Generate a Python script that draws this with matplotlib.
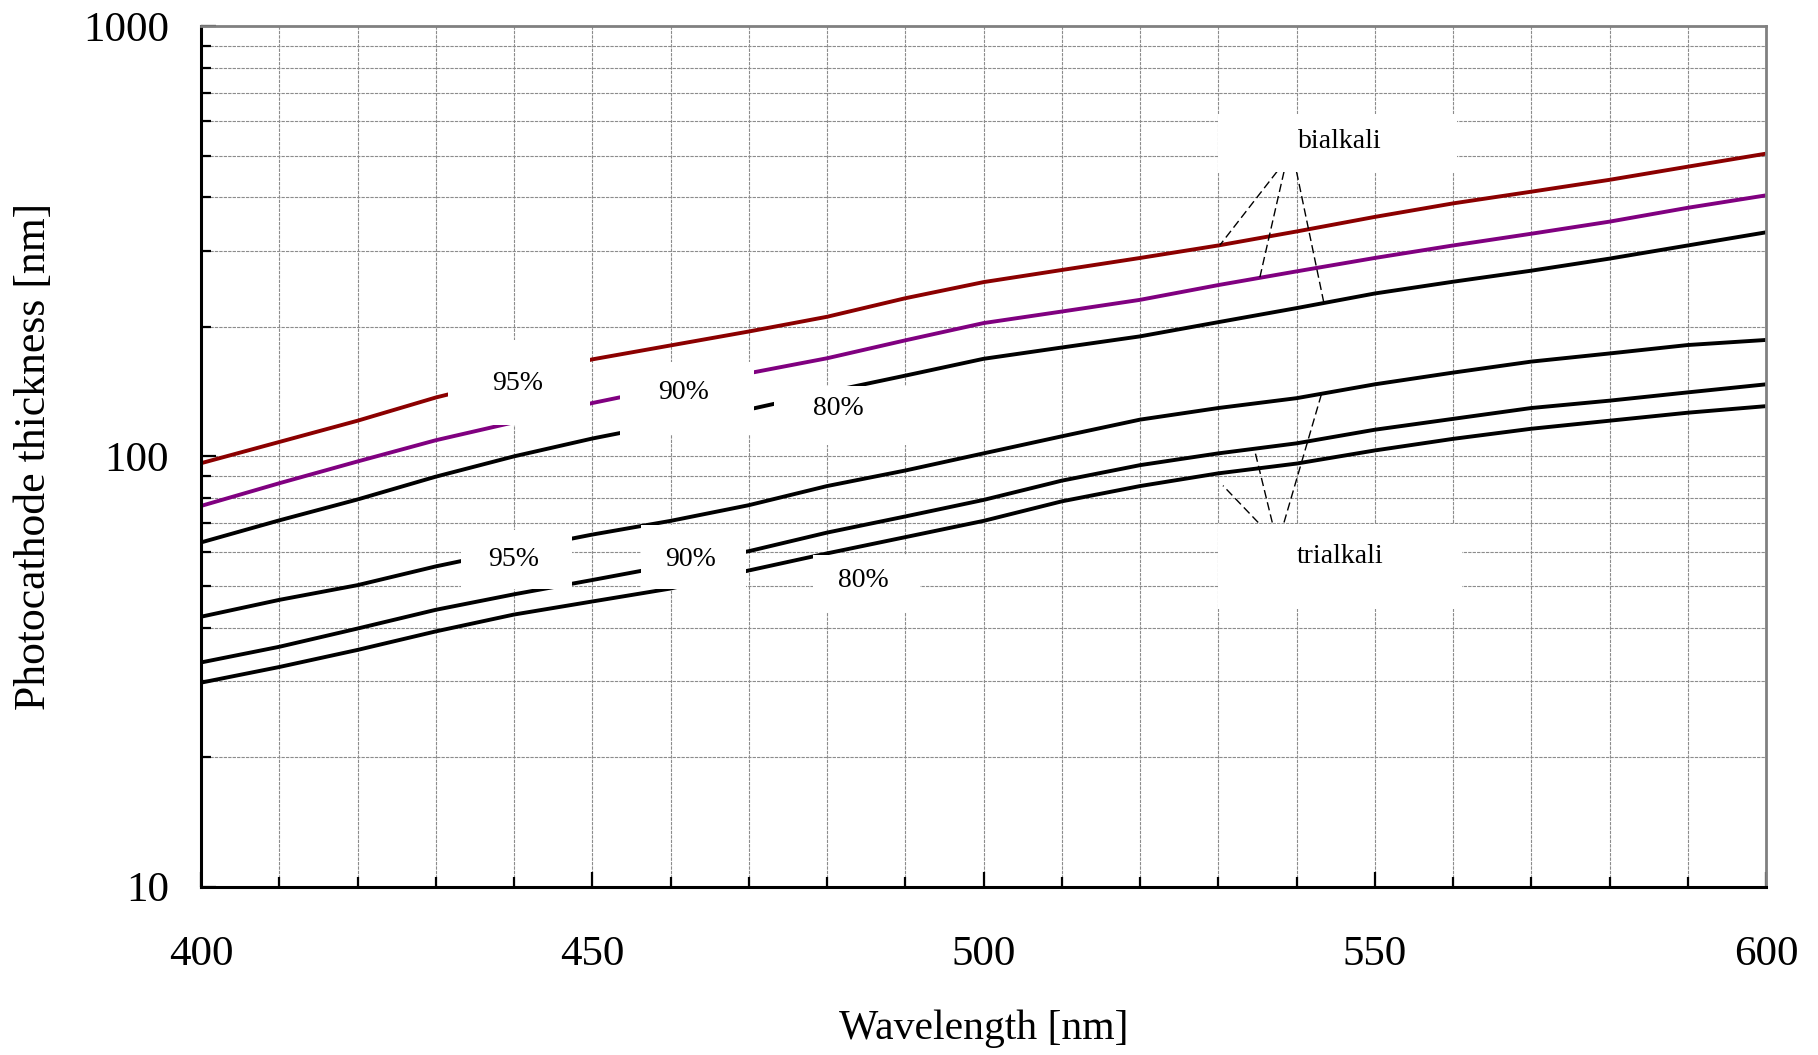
import numpy as np
import matplotlib
matplotlib.use('Agg')
from matplotlib import pyplot as plt
from matplotlib import ticker
from matplotlib.patches import Rectangle

plt.rcParams['font.family'] = ['Liberation Serif', 'DejaVu Serif']

# wavelength grid [nm]
wavelength = [400, 410, 420, 430, 440, 450, 460, 470, 480, 490, 500,
              510, 520, 530, 540, 550, 560, 570, 580, 590, 600]

# bialkali photocathode thickness [nm] for 95 / 90 / 80 % absorption
bi_95 = [96.4, 108, 121, 137, 152, 168, 181, 195, 211, 233, 254,
         271, 289, 309, 333, 360, 387, 412, 439, 471, 505]
bi_90 = [76.7, 86.6, 97.3, 109, 120, 133, 145, 156, 169, 186, 204,
         217, 231, 250, 269, 289, 309, 329, 351, 378, 404]
bi_80 = [63.1, 71, 79.4, 89.7, 100, 110, 119.5, 128.5, 141, 154, 168.5,
         179, 190, 205, 221, 239, 254.5, 270, 288, 309, 331.5]

# trialkali
tri_95 = [42.4, 46.4, 50.2, 55.5, 60.6, 65.8, 70.8, 77, 85.3, 92.7, 101.6,
          111.3, 121.7, 129.5, 136.5, 147, 156.5, 166, 173.4, 181.4, 186.4]
tri_90 = [33.2, 36.1, 39.8, 44, 47.8, 51.6, 55.8, 60.2, 66.5, 72.5, 79.2,
          87.8, 95.4, 101.6, 107.2, 115.3, 122.2, 129.5, 134.7, 140.8, 147]
tri_80 = [29.8, 32.4, 35.5, 39.2, 42.9, 46, 49.3, 54.3, 59.5, 64.9, 70.8,
          78.6, 85.3, 91.3, 96.2, 103.2, 109.8, 115.9, 121, 126.3, 130.8]

series = [(bi_95, '#8b0000'), (bi_90, '#800080'), (bi_80, 'black'),
          (tri_95, 'black'), (tri_90, 'black'), (tri_80, 'black')]

# label text, position and white box (x0, x1, y0, y1)
label_text = ['95%', '90%', '80%', '95%', '90%', '80%', 'bialkali', 'trialkali']
label_pos = [(440.5, 148), (461.7, 141), (481.4, 129.3),
             (439.9, 57.7), (462.5, 57.7), (484.6, 51.6),
             (545.6, 538), (545.6, 58.5)]
label_box = [(431.6, 449.7, 118, 186), (453.5, 470.7, 112, 166), (473.2, 490.6, 106, 146),
             (433.2, 447.4, 49.2, 67.4), (456.2, 469.6, 49.2, 69.3), (478.2, 491.9, 43.3, 59),
             (530.0, 560.5, 458, 624), (530.0, 561.2, 44.2, 69.6)]

# leader lines: label tip x, tip y, curve hit x
bi_tip_x = [537.5, 538.4, 540.0]
bi_tip_y = 458.6
bi_hit_x = [530.2, 535.3, 543.5]
tri_tip_x = [535.1, 536.9, 538.4]
tri_tip_y = 70.2
tri_hit_x = [530.6, 534.6, 543.2]

fig = plt.figure(figsize=(18.18, 10.55), dpi=100)
ax = fig.add_axes([0.1106, 0.1595, 0.8608, 0.8159])

for vals, col in series:
    ax.plot(wavelength, vals, color=col, lw=2.8, zorder=2, solid_capstyle='butt')


def on_curve(x, vals):
    return 10 ** np.interp(x, wavelength, np.log10(vals))


dash = dict(color='black', lw=1.0, dashes=(6, 3), zorder=3)
for tx, hx, vals in zip(bi_tip_x, bi_hit_x, [bi_95, bi_90, bi_80]):
    ax.plot([tx, hx], [bi_tip_y, on_curve(hx, vals)], **dash)
tri_hit_y = [85.5, on_curve(tri_hit_x[1], tri_90), on_curve(tri_hit_x[2], tri_95)]
for tx, hx, hy in zip(tri_tip_x, tri_hit_x, tri_hit_y):
    ax.plot([tx, hx], [tri_tip_y, hy], **dash)

for txt, (x, y), (x0, x1, y0, y1) in zip(label_text, label_pos, label_box):
    ax.add_patch(Rectangle((x0, y0), x1 - x0, y1 - y0, facecolor='white',
                           edgecolor='none', zorder=4))
    ax.text(x, y, txt, ha='center', va='center', fontsize=20, zorder=5)

ax.set_xlim(400, 600)
ax.set_yscale('log')
ax.set_ylim(10, 1000)

ax.xaxis.set_major_locator(ticker.MultipleLocator(50))
ax.xaxis.set_minor_locator(ticker.MultipleLocator(10))
ax.yaxis.set_major_locator(ticker.FixedLocator([10, 100, 1000]))
ax.yaxis.set_minor_locator(ticker.LogLocator(base=10, subs=np.arange(2, 10)))
ax.yaxis.set_major_formatter(ticker.FuncFormatter(lambda v, p: f'{v:g}'))
ax.yaxis.set_minor_formatter(ticker.NullFormatter())

ax.set_axisbelow(True)
ax.grid(which='both', color='#8c8c8c', ls=(0, (3, 1)), lw=0.8)

ax.tick_params(which='major', direction='in', length=11, width=1.6,
               labelsize=31, top=False, right=False)
ax.tick_params(axis='x', which='major', pad=35)
ax.tick_params(axis='y', which='major', pad=23)
ax.tick_params(which='minor', direction='in', length=7, width=1.6,
               top=False, right=False)

for s in ['left', 'bottom']:
    ax.spines[s].set_color('black')
    ax.spines[s].set_linewidth(2.2)
for s in ['top', 'right']:
    ax.spines[s].set_color('#808080')
    ax.spines[s].set_linewidth(2.0)

ax.set_xlabel('Wavelength [nm]', fontsize=30)
ax.xaxis.set_label_coords(0.5, -0.143)
ax.set_ylabel('Photocathode thickness [nm]', fontsize=31.5)
ax.yaxis.set_label_coords(-0.094, 0.5)

fig.savefig('out.png', dpi=100)
